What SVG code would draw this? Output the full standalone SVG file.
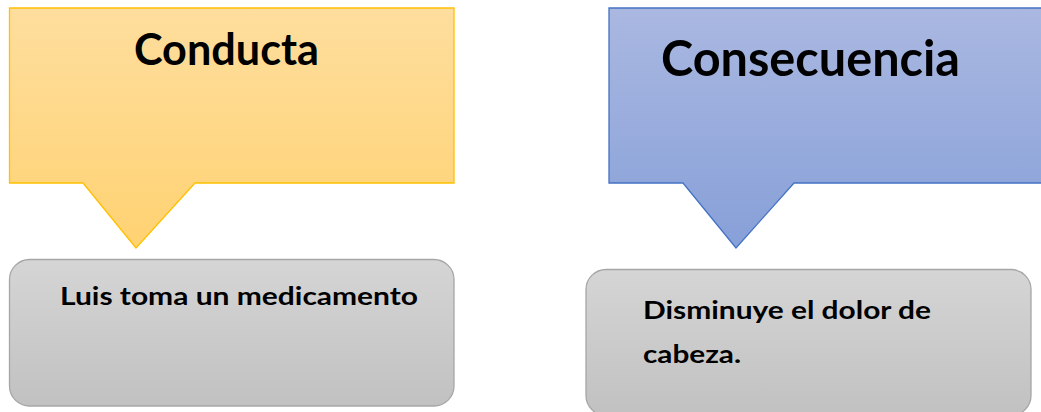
<svg xmlns="http://www.w3.org/2000/svg" width="1041" height="412" viewBox="0 0 1041 412">
<defs>
<linearGradient id="gy" x1="0" y1="0" x2="0" y2="1">
<stop offset="0" stop-color="#FEDE9E"/><stop offset="1" stop-color="#FFD272"/>
</linearGradient>
<linearGradient id="gb" x1="0" y1="0" x2="0" y2="1">
<stop offset="0" stop-color="#AAB8E1"/><stop offset="1" stop-color="#87A0D8"/>
</linearGradient>
<linearGradient id="gg" x1="0" y1="0" x2="0" y2="1">
<stop offset="0" stop-color="#D5D5D5"/><stop offset="1" stop-color="#C1C1C1"/>
</linearGradient>
<style>
text{font-family:Lato,"Open Sans","Liberation Sans",Arial,sans-serif;font-weight:bold;fill:#000}
.t{font-size:44px}
.s{font-size:25px}
.box{fill:url(#gg);stroke:#A6A6A6;stroke-width:1.3}
</style>
</defs>
<g id="conducta">
<path d="M9.5,8 H454 V183 H195 L136,248 L83,183 H9.5 Z" fill="url(#gy)" stroke="#FFC000" stroke-width="1.3"/>
<text class="t" x="134" y="65" textLength="185" lengthAdjust="spacingAndGlyphs">Conducta</text>
</g>
<g id="consecuencia">
<path d="M609,8 H1045 V183 H794 L736,248 L683,183 H609 Z" fill="url(#gb)" stroke="#4472C4" stroke-width="1.3"/>
<text class="t" style="font-size:49px" x="661" y="76" textLength="299" lengthAdjust="spacingAndGlyphs">Consecuencia</text>
</g>
<g id="luis">
<rect class="box" x="9.5" y="259.5" width="444.5" height="146.5" rx="20"/>
<text class="s" x="60" y="305" textLength="358" lengthAdjust="spacingAndGlyphs">Luis toma un medicamento</text>
</g>
<g id="disminuye">
<rect class="box" x="586" y="269.5" width="445" height="146" rx="20"/>
<text class="s" x="643" y="319" textLength="288" lengthAdjust="spacingAndGlyphs">Disminuye el dolor de</text>
<text class="s" x="643" y="363" textLength="98" lengthAdjust="spacingAndGlyphs">cabeza.</text>
</g>
<g id="connectors"/>
</svg>
